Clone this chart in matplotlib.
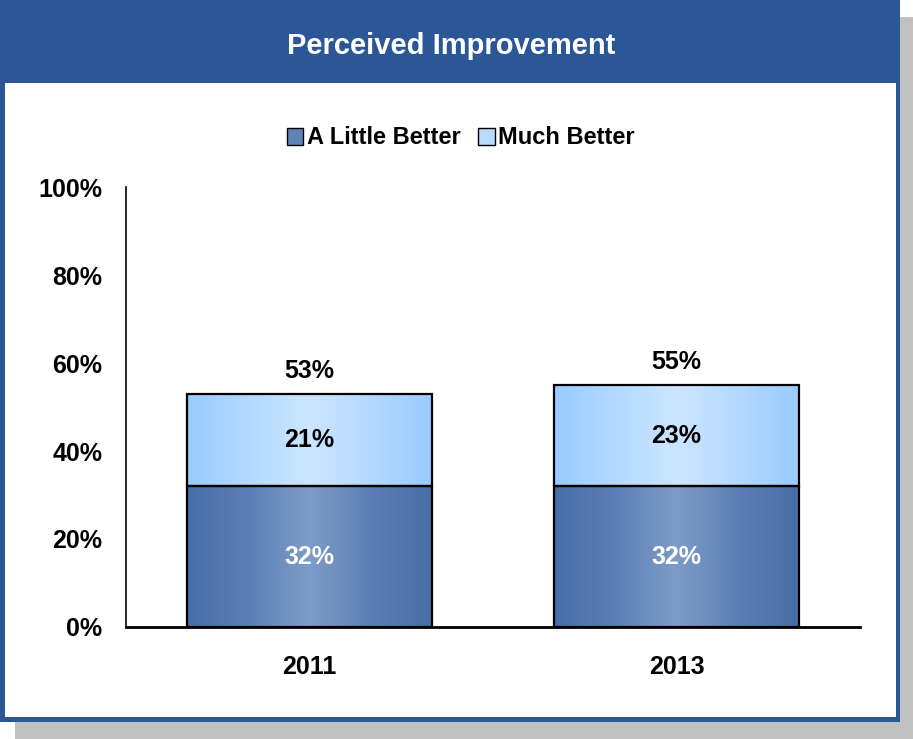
import numpy as np
import matplotlib.pyplot as plt
from matplotlib.patches import Rectangle, Patch
from matplotlib.colors import LinearSegmentedColormap

plt.rcParams['font.family'] = ['Liberation Sans', 'DejaVu Sans']

years = ['2011', '2013']
little = [32, 32]
much = [21, 23]
totals = [53, 55]
yticks = [0, 20, 40, 60, 80, 100]

W, H = 913, 739
fig = plt.figure(figsize=(W / 100, H / 100), dpi=100)

def px(x0, y0, x1, y1):
    # pixel box (top-left origin) -> figure fraction rect
    return (x0 / W, 1 - y1 / H, (x1 - x0) / W, (y1 - y0) / H)

def frame(x0, y0, x1, y1, color, z):
    l, b, w, h = px(x0, y0, x1, y1)
    fig.patches.append(Rectangle((l, b), w, h, transform=fig.transFigure,
                                 facecolor=color, edgecolor='none', zorder=z))

frame(15, 17, 913, 739, '#c0c0c0', 0)
frame(0, 0, 900, 722, '#2b5797', 1)
frame(5, 83, 896, 717, 'white', 2)
fig.text(451 / W, 1 - 46 / H, 'Perceived Improvement', color='white',
         fontsize=21, fontweight='bold', ha='center', va='center')

ax = fig.add_axes(px(126, 187, 860, 627))
ax.set_zorder(5)
ax.patch.set_alpha(0)

dark = LinearSegmentedColormap.from_list('d', ['#486ea8', '#5b7fb5', '#7f9cc8', '#5b7fb5', '#486ea8'])
light = LinearSegmentedColormap.from_list('l', ['#99ccff', '#b3d9ff', '#cce5ff', '#b3d9ff', '#99ccff'])
grad = np.linspace(0, 1, 256).reshape(1, -1)
bw = 0.667

x = np.arange(len(years))
for i in x:
    segs = [(0, little[i], dark), (little[i], little[i] + much[i], light)]
    for y0, y1, cm in segs:
        ax.imshow(grad, cmap=cm, aspect='auto', extent=(i - bw / 2, i + bw / 2, y0, y1),
                  interpolation='bilinear', zorder=2)
        ax.add_patch(Rectangle((i - bw / 2, y0), bw, y1 - y0, facecolor='none',
                               edgecolor='black', lw=1.6, zorder=3))
    ax.text(i, little[i] / 2, f'{little[i]}%', color='white', fontsize=18,
            fontweight='bold', ha='center', va='center', zorder=4)
    ax.text(i, little[i] + much[i] / 2, f'{much[i]}%', color='black', fontsize=18,
            fontweight='bold', ha='center', va='center', zorder=4)
    ax.annotate(f'{totals[i]}%', (i, little[i] + much[i]), xytext=(0, 8),
                textcoords='offset points', ha='center', va='bottom',
                fontsize=18, fontweight='bold')

ax.set_xlim(-0.5, 1.5)
ax.set_ylim(0, 100)
ax.set_yticks(yticks)
ax.set_yticklabels([f'{v}%' for v in yticks], fontsize=18, fontweight='bold')
ax.set_xticks(x)
ax.set_xticklabels(years, fontsize=18, fontweight='bold')
ax.tick_params(axis='y', length=0, pad=17)
ax.tick_params(axis='x', length=0, pad=20)
for s in ['top', 'right']:
    ax.spines[s].set_visible(False)
ax.spines['left'].set_linewidth(1.2)
ax.spines['bottom'].set_linewidth(2)

handles = [Patch(facecolor='#5f82b8', edgecolor='black', lw=1),
           Patch(facecolor='#b8dbff', edgecolor='black', lw=1)]
fig.legend(handles, ['A Little Better', 'Much Better'], loc='center',
           bbox_to_anchor=(461 / W, 1 - 138 / H), ncol=2, frameon=False,
           prop={'size': 17, 'weight': 'bold'}, handlelength=0.7, handleheight=0.7,
           handletextpad=0.15, columnspacing=0.75)

fig.savefig('out.png', dpi=100)
